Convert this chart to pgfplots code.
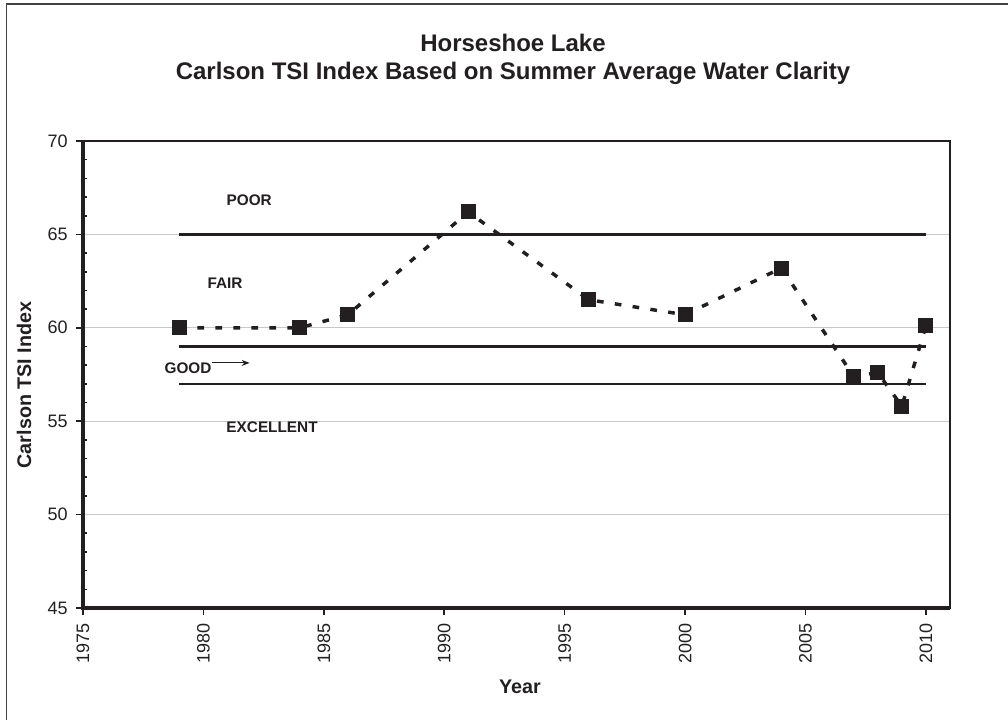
\documentclass[border=0pt]{standalone}
\usepackage{pgfplots}
\pgfplotsset{compat=1.18}
\usepackage{fontspec}
\setmainfont{Liberation Sans}
\usetikzlibrary{arrows.meta}
\definecolor{ink}{HTML}{231F20}
\definecolor{gridc}{HTML}{C8C8C8}
\begin{document}
\begin{tikzpicture}
\useasboundingbox (0,0) rectangle (756pt,539.25pt);
% outer chart frame (cropped at right and bottom)
\draw[ink!85, line width=1.1pt] (4.875pt,-2pt) -- (4.875pt,536.25pt) -- (760pt,536.25pt);
\begin{axis}[
  at={(62.25pt,83.25pt)}, anchor=south west,
  scale only axis, width=650.25pt, height=350.25pt,
  xmin=1975, xmax=2011, ymin=45, ymax=70,
  xtick={1975,1980,...,2010}, ytick={45,50,...,70},
  minor y tick num=4,
  tick pos=left,
  tick align=inside,
  major tick length=-5pt, minor tick length=3pt,
  every tick/.style={ink, line width=1.2pt},
  axis line style={ink, line width=0.9pt},
  ymajorgrids, grid style={gridc, line width=0.8pt},
  /pgf/number format/1000 sep={},
  /pgf/number format/assume math mode=true,
  ticklabel style={font=\fontsize{13.5}{16}\selectfont, text=ink},
  yticklabel style={anchor=east, inner sep=0pt, xshift=-11.25pt},
  xticklabel style={yshift=-11.25pt, rotate=90, anchor=east, inner sep=0pt},
  clip=false,
]
\addplot[ink, line width=2pt, no markers] coordinates {(1979,65) (2010,65)};
\addplot[ink, line width=2pt, no markers] coordinates {(1979,59) (2010,59)};
\addplot[ink, line width=2pt, no markers] coordinates {(1979,57) (2010,57)};
\addplot[ink, line width=2.6pt, dash pattern=on 5pt off 8.5pt,
  mark=square*, mark size=5.25pt, mark options={solid, fill=ink, draw=ink, line width=0pt}]
  coordinates {(1979,60.0) (1984,60.0) (1986,60.7) (1991,66.2) (1996,61.5) (2000,60.7)
               (2004,63.2) (2007,57.4) (2008,57.6) (2009,55.8) (2010,60.1)};
% thick left and bottom axis lines
\draw[ink, line width=2.4pt] (rel axis cs:0,1) -- (rel axis cs:0,0) -- (rel axis cs:1,0);
% region labels
\node[font=\bfseries\fontsize{11.5}{13}\selectfont, text=ink, anchor=base] at (axis cs:1981.9,66.57) {POOR};
\node[font=\bfseries\fontsize{11.5}{13}\selectfont, text=ink, anchor=base] at (axis cs:1980.9,62.08) {FAIR};
\node[font=\bfseries\fontsize{11.5}{13}\selectfont, text=ink, anchor=base] at (axis cs:1979.36,57.53) {GOOD};
\node[font=\bfseries\fontsize{11.5}{13}\selectfont, text=ink, anchor=base] at (axis cs:1982.85,54.42) {EXCELLENT};
\draw[ink, line width=0.8pt, -{Stealth[length=6pt,width=4.5pt]}] (axis cs:1980.34,58.12) -- (axis cs:1981.92,58.12);
\end{axis}
% titles and axis labels
\node[font=\bfseries\fontsize{18}{21}\selectfont, text=ink, anchor=base] at (384.75pt,500.25pt) {Horseshoe Lake};
\node[font=\bfseries\fontsize{18}{21}\selectfont, text=ink, anchor=base] at (384.75pt,479.25pt) {Carlson TSI Index Based on Summer Average Water Clarity};
\node[font=\bfseries\fontsize{14.8}{17}\selectfont, text=ink, anchor=base] at (390pt,19.5pt) {Year};
\node[font=\bfseries\fontsize{14.8}{17}\selectfont, text=ink, rotate=90, anchor=center] at (18pt,250.5pt) {Carlson TSI Index};
\end{tikzpicture}
\end{document}
